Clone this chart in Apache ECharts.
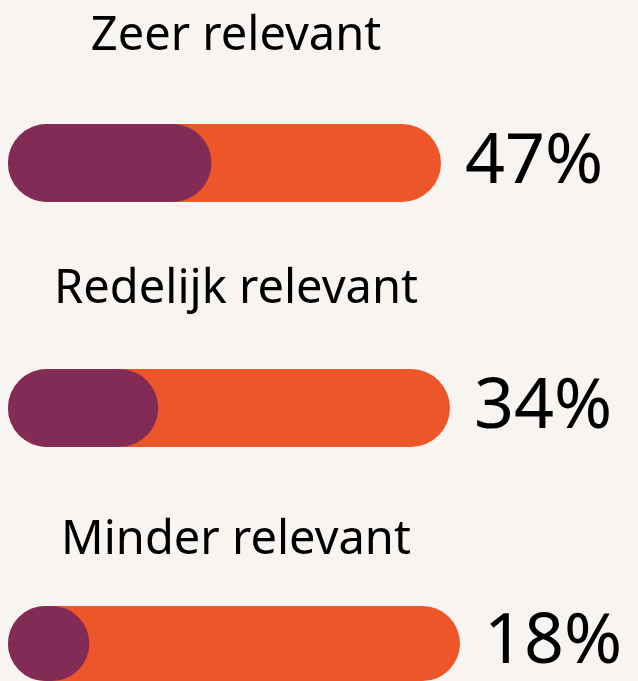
<!DOCTYPE html>
<html>
<head>
<meta charset="utf-8">
<script src="https://cdn.jsdelivr.net/npm/echarts@6/dist/echarts.min.js"></script>
<style>
html,body{margin:0;padding:0;background:#f7f4f1;}
#c{width:638px;height:681px;}
</style>
</head>
<body>
<div id="c"></div>
<script>
var categories = ['Zeer relevant', 'Redelijk relevant', 'Minder relevant'];
var values = [47, 34, 18];
var trackValue = 100;

var FONT = '"Noto Sans", sans-serif';
var PURPLE = '#832b57';
var ORANGE = '#ec5628';

// layout per row
var gridTops = [124, 369, 606];
var gridWidths = [433, 442, 452];
var barH = 78;
var labelY = [37, 290, 541];

var chart = echarts.init(document.getElementById('c'));
var grids = [], xAxes = [], yAxes = [], series = [], graphics = [];
categories.forEach(function (cat, i) {
  grids.push({ left: 8, top: gridTops[i], width: gridWidths[i], height: barH, containLabel: false });
  xAxes.push({ type: 'value', gridIndex: i, min: 0, max: 100, show: false });
  yAxes.push({ type: 'category', gridIndex: i, data: [cat], show: false });
  series.push({
    type: 'bar', xAxisIndex: i, yAxisIndex: i, barWidth: barH, barGap: '-100%',
    data: [trackValue], silent: true,
    itemStyle: { color: ORANGE, borderRadius: barH / 2 },
    label: {
      show: true, position: 'right', distance: 24,
      formatter: function () { return values[i] + '%'; },
      fontFamily: FONT, fontSize: 70, color: '#000'
    }
  });
  series.push({
    type: 'bar', xAxisIndex: i, yAxisIndex: i, barWidth: barH, barGap: '-100%',
    data: [values[i]], silent: true, z: 3,
    itemStyle: { color: PURPLE, borderRadius: barH / 2 }
  });
  graphics.push({
    type: 'text', left: 'center', x: 236, y: labelY[i],
    style: {
      text: cat, fontFamily: FONT, fontSize: 47, fill: '#000',
      textAlign: 'center', textVerticalAlign: 'middle', x: 236, y: labelY[i]
    }
  });
});

// use explicit positions for graphics
graphics = categories.map(function (cat, i) {
  return {
    type: 'text', x: 236, y: labelY[i],
    style: {
      text: cat, fontFamily: FONT, fontSize: 47, fill: '#000',
      align: 'center', verticalAlign: 'middle'
    }
  };
});

chart.setOption({
  backgroundColor: '#f7f4f1',
  animation: false,
  grid: grids,
  xAxis: xAxes,
  yAxis: yAxes,
  series: series,
  graphic: graphics
});
</script>
</body>
</html>
